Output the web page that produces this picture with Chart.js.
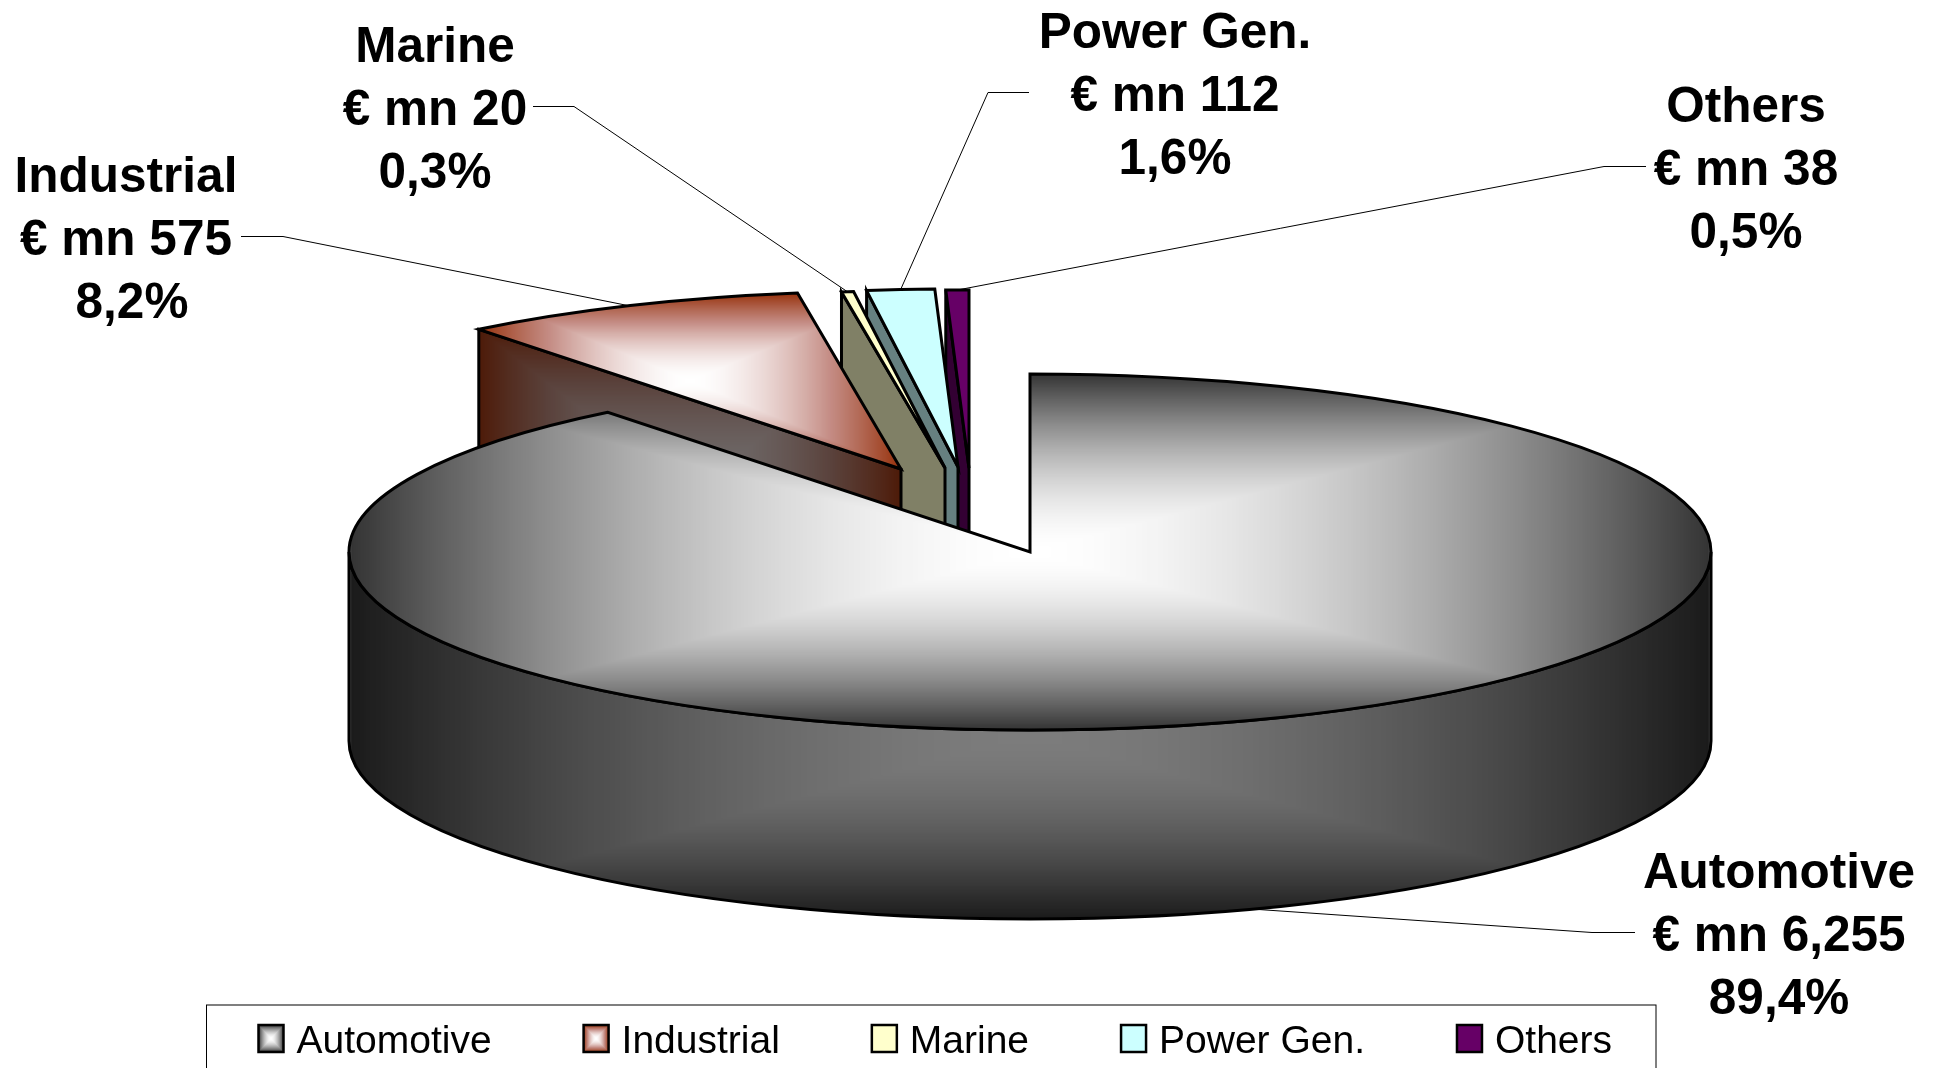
<!DOCTYPE html>
<html>
<head>
<meta charset="utf-8">
<title>Sales by segment</title>
<style>
  html, body { margin: 0; padding: 0; background: #fff; overflow: hidden; }
  canvas { display: block; }
</style>
<script src="https://cdn.jsdelivr.net/npm/chart.js@4/dist/chart.umd.js"></script>
</head>
<body>
<canvas id="segmentPie" width="1937" height="1068"></canvas>
<script>
  'use strict';

  const categories = ['Automotive', 'Industrial', 'Marine', 'Power Gen.', 'Others'];
  const salesMn = [6255, 575, 20, 112, 38];
  const amountLabels = ['€ mn 6,255', '€ mn 575', '€ mn 20', '€ mn 112', '€ mn 38'];
  const shareLabels = ['89,4%', '8,2%', '0,3%', '1,6%', '0,5%'];

  // look of the tilted pie
  const PIE = { x: 1030, y: 552, rx: 681, ry: 178, depth: 189 };
  const EXPLODE = [[0, 0], [-129, -83], [-85, -84], [-72, -85], [-61, -84]];
  const LABEL_FONT = 'bold 49.5px "Liberation Sans", Arial, sans-serif';
  const LEGEND_FONT = '39px "Liberation Sans", Arial, sans-serif';
  const LABEL_LINE = 63;
  // centre of each label block and where its leader line leaves the text
  const LABEL_POS = [
    { x: 1779, y: 937, from: [1635, 932], bend: [1592, 932] },
    { x: 126, y: 241, shareDx: 6, from: [241, 236], bend: [283, 236] },
    { x: 435, y: 111, from: [533, 106], bend: [574, 106] },
    { x: 1175, y: 97, from: [1029, 92], bend: [988, 92] },
    { x: 1746, y: 171, from: [1646, 166], bend: [1604, 166] }
  ];
  const LEGEND_BOX = { x: 206.5, y: 1005, right: 1656 };

  const canvas = document.getElementById('segmentPie');
  const ctx = canvas.getContext('2d');

  // Rectangular "from centre" shading, the way the office chart fills its slices.
  // mid is an optional colour halfway, used where a plain blend looks too orange.
  function shade(edge, centre, mid) {
    const size = 256;
    const off = document.createElement('canvas');
    off.width = off.height = size;
    const offCtx = off.getContext('2d');
    const img = offCtx.createImageData(size, size);
    for (let py = 0; py < size; py++) {
      for (let px = 0; px < size; px++) {
        const u = Math.abs((px + 0.5) / size * 2 - 1);
        const v = Math.abs((py + 0.5) / size * 2 - 1);
        const f = Math.pow(Math.max(u, v), 1.7);
        const at = (py * size + px) * 4;
        for (let c = 0; c < 3; c++) {
          if (mid) {
            img.data[at + c] = f < 0.5
              ? centre[c] + (mid[c] - centre[c]) * f * 2
              : mid[c] + (edge[c] - mid[c]) * (f - 0.5) * 2;
          } else {
            img.data[at + c] = centre[c] + (edge[c] - centre[c]) * f;
          }
        }
        img.data[at + 3] = 255;
      }
    }
    offCtx.putImageData(img, 0, 0);
    return ctx.createPattern(off, 'no-repeat');
  }

  function placeShade(fill, box, base) {
    if (typeof fill === 'string') {
      return;
    }
    const target = new DOMMatrix().translate(box.x, box.y).scale(box.w / 256, box.h / 256);
    fill.setTransform(base ? base.inverse().multiply(target) : target);
  }

  const faceFills = [
    shade([51, 51, 51], [255, 255, 255]),
    shade([150, 48, 10], [255, 255, 255], [196, 140, 132]),
    '#FFFFCC', '#CCFFFF', '#660066'
  ];
  const wallFills = [
    shade([26, 26, 26], [124, 124, 124]),
    shade([77, 26, 8], [112, 108, 108], [90, 66, 60]),
    '#808066', '#668080', '#330033'
  ];
  const swatchFills = [
    shade([51, 51, 51], [255, 255, 255]),
    shade([150, 48, 10], [255, 255, 255], [196, 140, 132]),
    '#FFFFCC', '#CCFFFF', '#660066'
  ];

  function pointAt(i, angle, drop) {
    return [
      PIE.x + EXPLODE[i][0] + PIE.rx * Math.cos(angle),
      PIE.y + EXPLODE[i][1] + PIE.ry * Math.sin(angle) + (drop || 0)
    ];
  }

  function faceBox(i, arc) {
    const xs = [PIE.x + EXPLODE[i][0]];
    const ys = [PIE.y + EXPLODE[i][1]];
    for (let k = 0; k <= 720; k++) {
      const p = pointAt(i, arc.startAngle + (arc.endAngle - arc.startAngle) * k / 720);
      xs.push(p[0]);
      ys.push(p[1]);
    }
    const x = Math.min(...xs);
    const y = Math.min(...ys);
    return { x, y, w: Math.max(...xs) - x, h: Math.max(...ys) - y };
  }

  function outline(g) {
    g.lineWidth = 3;
    g.lineJoin = 'miter';
    g.strokeStyle = '#000';
    g.stroke();
  }

  function drawWall(g, i, arc) {
    const cx = PIE.x + EXPLODE[i][0];
    const cy = PIE.y + EXPLODE[i][1];
    g.beginPath();
    if (i === 0) {
      // round front side of the big slice
      g.ellipse(cx, cy, PIE.rx, PIE.ry, 0, 0, Math.PI);
      g.lineTo(cx - PIE.rx, cy + PIE.depth);
      g.ellipse(cx, cy + PIE.depth, PIE.rx, PIE.ry, 0, Math.PI, 0, true);
      placeShade(wallFills[i], { x: cx - PIE.rx, y: cy, w: PIE.rx * 2, h: PIE.ry + PIE.depth });
    } else {
      // cut side of a pulled out slice
      const outer = pointAt(i, arc.startAngle);
      g.moveTo(outer[0], outer[1]);
      g.lineTo(cx, cy);
      g.lineTo(cx, cy + PIE.depth);
      g.lineTo(outer[0], outer[1] + PIE.depth);
      placeShade(wallFills[i], {
        x: outer[0], y: outer[1], w: cx - outer[0], h: cy + PIE.depth - outer[1]
      });
    }
    g.closePath();
    g.fillStyle = wallFills[i];
    g.fill();
    outline(g);
  }

  function drawFace(g, i, arc) {
    const cx = PIE.x + EXPLODE[i][0];
    const cy = PIE.y + EXPLODE[i][1];
    const sx = PIE.rx / arc.outerRadius;
    const sy = PIE.ry / arc.outerRadius;
    const tilt = new DOMMatrix().translate(cx, cy).scale(sx, sy).translate(-arc.x, -arc.y);

    placeShade(faceFills[i], faceBox(i, arc), tilt);
    g.save();
    g.transform(tilt.a, tilt.b, tilt.c, tilt.d, tilt.e, tilt.f);
    arc.draw(g);
    g.restore();

    g.beginPath();
    g.ellipse(cx, cy, PIE.rx, PIE.ry, 0, arc.startAngle, arc.endAngle);
    g.lineTo(cx, cy);
    g.closePath();
    outline(g);
  }

  const tiltedPie = {
    id: 'tiltedPie',
    beforeDatasetsDraw(chart) {
      const g = chart.ctx;
      const arcs = chart.getDatasetMeta(0).data;
      // back to front: the big slice goes last and hides the lower part of the others
      for (let i = arcs.length - 1; i >= 0; i--) {
        drawWall(g, i, arcs[i]);
        drawFace(g, i, arcs[i]);
      }
      return false;
    }
  };

  // afterDatasetsDraw does not fire once the pie plugin has cancelled the default draw
  const sliceLabels = {
    id: 'sliceLabels',
    afterDraw(chart) {
      const g = chart.ctx;
      const arcs = chart.getDatasetMeta(0).data;
      g.save();
      arcs.forEach((arc, i) => {
        const pos = LABEL_POS[i];
        const mid = (arc.startAngle + arc.endAngle) / 2;
        const onEdge = pointAt(i, mid, Math.sin(mid) > 0 ? PIE.depth : 0);

        g.beginPath();
        g.moveTo(pos.from[0], pos.from[1] + 0.5);
        g.lineTo(pos.bend[0], pos.bend[1] + 0.5);
        g.lineTo(onEdge[0], onEdge[1]);
        g.lineWidth = 1;
        g.strokeStyle = '#000';
        g.stroke();

        g.font = LABEL_FONT;
        g.fillStyle = '#000';
        g.textAlign = 'center';
        g.textBaseline = 'middle';
        g.fillText(categories[i], pos.x, pos.y - LABEL_LINE);
        g.fillText(amountLabels[i], pos.x, pos.y);
        g.fillText(shareLabels[i], pos.x + (pos.shareDx || 0), pos.y + LABEL_LINE);
      });
      g.restore();
    }
  };

  const boxedLegend = {
    id: 'boxedLegend',
    afterDraw(chart) {
      const g = chart.ctx;
      const bottom = chart.height + 10;
      g.save();
      g.strokeStyle = '#000';
      g.lineWidth = 1;
      g.strokeRect(LEGEND_BOX.x, LEGEND_BOX.y, LEGEND_BOX.right - LEGEND_BOX.x, bottom - LEGEND_BOX.y);

      g.font = LEGEND_FONT;
      g.textAlign = 'left';
      g.textBaseline = 'middle';
      let x = 258.5;
      categories.forEach((name, i) => {
        const box = { x, y: 1025, w: 25, h: 27 };
        placeShade(swatchFills[i], box);
        g.fillStyle = swatchFills[i];
        g.fillRect(box.x, box.y, box.w, box.h);
        g.lineWidth = 2.5;
        g.strokeRect(box.x, box.y, box.w, box.h);
        g.fillStyle = '#000';
        g.fillText(name, x + 38, 1042);
        x += 38 + g.measureText(name).width + 92;
      });
      g.restore();
    }
  };

  new Chart(ctx, {
    type: 'pie',
    data: {
      labels: categories,
      datasets: [{
        data: salesMn,
        backgroundColor: faceFills,
        borderWidth: 0
      }]
    },
    options: {
      responsive: false,
      animation: false,
      events: [],
      plugins: {
        legend: { display: false },
        tooltip: { enabled: false }
      }
    },
    plugins: [tiltedPie, sliceLabels, boxedLegend]
  });
</script>
</body>
</html>
